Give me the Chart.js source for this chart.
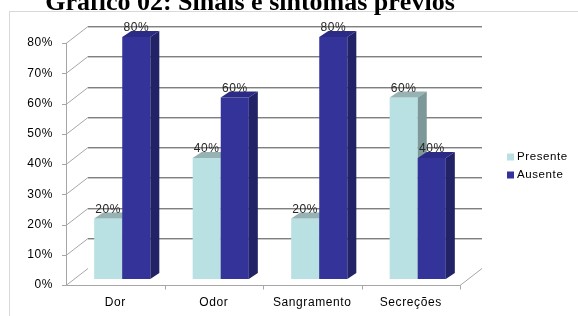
<!DOCTYPE html>
<html>
<head>
<meta charset="utf-8">
<script src="https://cdn.jsdelivr.net/npm/chart.js@4.4.0/dist/chart.umd.min.js"></script>
<style>
  html, body { margin: 0; padding: 0; background: #fff; }
  canvas { display: block; }
</style>
</head>
<body>
<canvas id="grafico" width="578" height="316"></canvas>
<script>
const categorias = ["Dor", "Odor", "Sangramento", "Secreções"];
const presente = [20, 40, 20, 60];
const ausente = [80, 60, 80, 40];
const yTicks = [0, 10, 20, 30, 40, 50, 60, 70, 80];
const titulo = "Gráfico 02: Sinais e sintomas prévios";

const FONT = '"Liberation Sans", Arial, sans-serif';
// 3d look: back wall offset, bar plane offset, bar depth
const WALL = { x: 22, y: -17 };
const PLANE = { x: 7, y: -6 };
const DEPTH = { x: 9, y: -6 };

const faces = [
    { front: "#B9E0E3", top: "#97B2B2", side: "#7C9898" },
    { front: "#333399", top: "#2B2B86", side: "#222266" },
];

const efeito3d = {
    id: "efeito3d",
    beforeDraw(chart) {
        const ctx = chart.ctx;
        ctx.save();
        // outer frame
        ctx.strokeStyle = "#D9D9D9";
        ctx.lineWidth = 1;
        ctx.strokeRect(9.5, 11.5, 620, 320);
        // title (cut off at top like the source)
        ctx.fillStyle = "#000";
        ctx.font = 'bold 26px "Liberation Serif", "Times New Roman", serif';
        ctx.textAlign = "center";
        ctx.textBaseline = "alphabetic";
        ctx.fillText(titulo, 250, 10);
        ctx.restore();
        // the source text is a little spread out
        ctx.letterSpacing = "0.6px";
    },
    beforeDatasetsDraw(chart) {
        const ctx = chart.ctx;
        const { left, right, bottom, top } = chart.chartArea;
        const ys = chart.scales.y;
        const xs = chart.scales.x;
        ctx.save();
        ctx.lineWidth = 1;

        yTicks.forEach((v) => {
            const py = Math.round(ys.getPixelForValue(v)) + 0.5;
            if (v > 0) {
                ctx.strokeStyle = "#C8C8C8";
                ctx.beginPath();
                ctx.moveTo(left + WALL.x, py + WALL.y + 1);
                ctx.lineTo(right + WALL.x, py + WALL.y + 1);
                ctx.stroke();
                ctx.strokeStyle = "#808080";
                ctx.beginPath();
                ctx.moveTo(left + WALL.x, py + WALL.y);
                ctx.lineTo(right + WALL.x, py + WALL.y);
                ctx.stroke();
            }
            ctx.strokeStyle = "#A6A6A6";
            ctx.beginPath();
            ctx.moveTo(left, py);
            ctx.lineTo(left + WALL.x, py + WALL.y);
            ctx.moveTo(left - 4, py);
            ctx.lineTo(left, py);
            ctx.stroke();
        });

        // left edge and floor
        const lx = Math.round(left) + 0.5;
        const by = Math.round(bottom) + 0.5;
        ctx.strokeStyle = "#A6A6A6";
        ctx.beginPath();
        ctx.moveTo(lx, top);
        ctx.lineTo(lx, by);
        ctx.lineTo(right, by);
        ctx.lineTo(right + WALL.x, by + WALL.y);
        const step = xs.getPixelForValue(1) - xs.getPixelForValue(0);
        categorias.forEach((c, i) => {
            const tx = Math.round(xs.getPixelForValue(i) + step / 2) + 0.5;
            ctx.moveTo(tx, by);
            ctx.lineTo(tx, by + 4);
        });
        ctx.stroke();

        // bars, drawn category by category so faces overlap properly
        const metas = chart.data.datasets.map((d, i) => chart.getDatasetMeta(i));
        categorias.forEach((c, i) => {
            metas.forEach((meta, d) => {
                const el = meta.data[i];
                const f = faces[d];
                const x0 = el.x - el.width / 2 + PLANE.x;
                const x1 = el.x + el.width / 2 + PLANE.x;
                const yt = el.y + PLANE.y;
                const yb = el.base + PLANE.y;

                ctx.fillStyle = f.front;
                ctx.fillRect(x0, yt, x1 - x0, yb - yt);

                ctx.fillStyle = f.top;
                ctx.beginPath();
                ctx.moveTo(x0, yt);
                ctx.lineTo(x0 + DEPTH.x, yt + DEPTH.y);
                ctx.lineTo(x1 + DEPTH.x, yt + DEPTH.y);
                ctx.lineTo(x1, yt);
                ctx.closePath();
                ctx.fill();

                ctx.fillStyle = f.side;
                ctx.beginPath();
                ctx.moveTo(x1, yt);
                ctx.lineTo(x1 + DEPTH.x, yt + DEPTH.y);
                ctx.lineTo(x1 + DEPTH.x, yb + DEPTH.y);
                ctx.lineTo(x1, yb);
                ctx.closePath();
                ctx.fill();
            });
        });

        // value labels
        ctx.font = "12px " + FONT;
        ctx.textAlign = "center";
        ctx.textBaseline = "alphabetic";
        ctx.fillStyle = "#262626";
        metas.forEach((meta, d) => {
            const vals = chart.data.datasets[d].data;
            meta.data.forEach((el, i) => {
                ctx.fillText(vals[i] + "%", el.x + PLANE.x, el.y + PLANE.y + DEPTH.y);
            });
        });

        // legend
        ctx.textAlign = "left";
        ctx.textBaseline = "middle";
        ctx.font = "11.5px " + FONT;
        chart.data.datasets.forEach((ds, d) => {
            const ly = 157 + d * 18;
            ctx.fillStyle = faces[d].front;
            ctx.fillRect(507, ly - 3.5, 7, 7);
            ctx.fillStyle = "#000";
            ctx.fillText(ds.label, 517, ly);
        });

        ctx.restore();
        return false;
    },
    afterDraw(chart) {
        chart.ctx.letterSpacing = "0px";
    },
};

new Chart(document.getElementById("grafico"), {
    type: "bar",
    data: {
        labels: categorias,
        datasets: [
            { label: "Presente", data: presente, backgroundColor: faces[0].front },
            { label: "Ausente", data: ausente, backgroundColor: faces[1].front },
        ],
    },
    options: {
        responsive: false,
        animation: false,
        devicePixelRatio: 1,
        categoryPercentage: 0.57,
        barPercentage: 1,
        layout: { padding: { left: 8, top: 43, right: 118, bottom: 0 } },
        scales: {
            x: {
                grid: { display: false, drawTicks: false },
                border: { display: false },
                ticks: { color: "#000", padding: 10, font: { family: FONT, size: 12 } },
                afterFit: (s) => { s.height = 31; },
            },
            y: {
                min: 0,
                max: 80,
                grid: { display: false, drawTicks: false },
                border: { display: false },
                ticks: {
                    stepSize: 10,
                    color: "#000",
                    padding: 13,
                    font: { family: FONT, size: 12 },
                    callback: (v) => v + "%",
                },
                afterFit: (s) => { s.width = 58; },
            },
        },
        plugins: {
            legend: { display: false },
            tooltip: { enabled: false },
        },
    },
    plugins: [efeito3d],
});
</script>
</body>
</html>
